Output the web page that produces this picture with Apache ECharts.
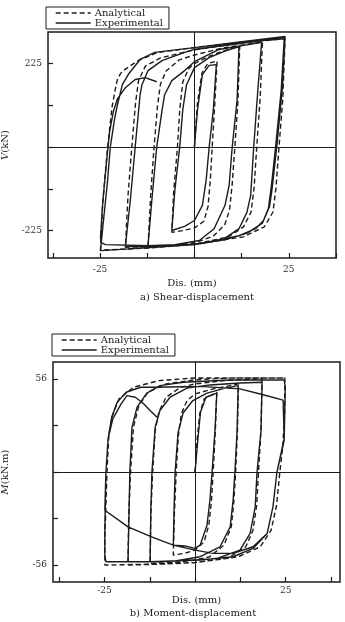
<!DOCTYPE html>
<html><head><meta charset="utf-8">
<script src="https://cdn.jsdelivr.net/npm/echarts@6/dist/echarts.min.js"></script>
<style>html,body{margin:0;padding:0;background:#fff}#c{width:345px;height:622px}</style>
</head><body><div id="c"></div>
<script>
// ---- Data (Dis. in mm, V in kN / M in kN.m) ----
const shearExp = [
[0,0],[0.3,40],[0.8,100],[2.1,195],[3.9,220],[5.8,222],
[5.0,100],[3.9,0],[3.1,-89],[2.1,-157],[0,-198],[-2.6,-214],[-6.0,-225],
[-5.2,-117],[-3.9,0],[-3.1,100],[-2.1,168],[0,214],[3.9,241],[7.9,258],[11.8,271],
[11.3,127],[10,0],[9.2,-103],[8.1,-157],[5.2,-220],[1.3,-252],[-5.2,-263],[-12.3,-266],
[-11.3,-144],[-10,0],[-8.6,98],[-7.9,141],[-6,179],[-2.6,206],[0,230],[6.5,263],[17.8,282],
[16.8,155],[15.7,0],[14.9,-130],[13.9,-176],[11.8,-220],[7.9,-247],[0,-263],[-9.2,-268],[-18.3,-268],
[-17,-144],[-15.7,0],[-14.4,141],[-13.9,168],[-12.3,206],[-8.6,233],[-2.6,255],[0,263],[11.8,279],[23.8,295],
[23,155],[21.5,0],[20.4,-103],[19.6,-165],[18.3,-198],[16.2,-220],[11.8,-239],[3.1,-258],[0,-263],[-11.8,-271],[-24.9,-279],
[-24.1,-198],[-23,-89],[-22.3,0],[-21.2,73],[-20.4,114],[-19.1,168],[-17.5,196],[-14.4,236],[-10.5,255],[0,268],[12,283],[24,298],
[23.3,160],[21.8,0],[20.6,-110],[19.9,-160],[18,-205],[14,-232],[8,-250],[0,-262],[-12,-266],[-23.6,-263],[-24.6,-258],[-24.9,-244],
[-24.3,-150],[-23.3,-40],[-22.5,40],[-21.5,95],[-20.4,130],[-18.3,160],[-15.7,182],[-13.1,187],[-10,176]
];
const shearAna = [
[0,0],[0.8,120],[2,200],[3.5,225],[6,232],
[5.4,120],[4.7,0],[4.2,-90],[3.6,-160],[2.5,-200],[0,-218],[-3,-225],[-6,-230],
[-5.5,-120],[-4.5,0],[-3.9,100],[-3.1,175],[-1.5,212],[0,225],[4,245],[8,260],[12,272],
[11.5,120],[10.7,0],[10,-100],[9.3,-170],[8,-210],[5,-240],[0,-258],[-6,-265],[-12.3,-268],
[-11.6,-130],[-10.7,0],[-9.8,110],[-9,170],[-7.5,205],[-4,235],[0,248],[8,268],[18,283],
[17.4,130],[16.5,0],[15.8,-110],[15,-175],[13,-215],[9,-242],[0,-262],[-9,-268],[-18.3,-270],
[-17.6,-130],[-16.6,0],[-15.6,120],[-14.8,180],[-13,218],[-9,240],[0,262],[12,280],[24,292],
[23.4,130],[22.4,0],[21.6,-110],[20.8,-175],[18.5,-215],[13,-242],[0,-262],[-12,-272],[-24.9,-278],
[-24.3,-150],[-23,0],[-21.8,110],[-20.9,160],[-20.4,182],[-19.6,198],[-18.3,210],[-14.9,233],[-9.7,255],[0,268],[12,282],[24,292]
];
const momentExp = [
[0,0],[0.8,20],[1.5,36],[3,45],[6,47.5],
[5.5,25],[4.7,0],[4.1,-17],[3.3,-32],[1.4,-44],[0,-46],[-2.8,-44.5],[-6,-44],
[-5.8,-23],[-5.5,0],[-4.7,23.5],[-3.3,35.5],[-0.6,43],[3.3,47.5],[8.3,50.5],[11.9,52],
[11.6,25],[11,0],[10.5,-17],[9.7,-33],[6.9,-45],[1.4,-51],[-5.5,-53.6],[-12.4,-54],
[-12.2,-23],[-11.9,0],[-11,27],[-9.7,37],[-6.9,45],[-2.2,50.5],[4.1,52.4],[12.4,53.6],[18.5,54],
[18.2,25],[17.1,0],[16.6,-21],[15.2,-37],[12.4,-47],[6.1,-52],[0,-53],[-9.7,-54],[-18.5,-54],
[-18.2,-23],[-18,0],[-17.4,27],[-16,39],[-13.3,47.5],[-9.7,52],[-3.3,54],[9.7,55.4],[24.6,55.4],
[24.9,51],[24.6,19],[22.6,0],[21.5,-21],[19.9,-37],[16,-46],[10.5,-51],[1.4,-53],[-12.4,-54],[-24.6,-54],[-24.9,-50],
[-24.9,-35],[-24.6,0],[-24,20],[-23,33],[-21.5,42],[-19,48],[-15,51],[-11.6,51],[1.4,51.5],[12.4,50],[18.8,46.5],[24.3,43.3],
[24.6,20],[22.6,0],[21.5,-21],[19.9,-37],[16,-45],[10.5,-49],[5,-49],[0,-47],[-6,-44],[-12,-39],[-18.5,-33],[-24.9,-23],
[-24.6,0],[-24,20],[-22.7,32],[-20.4,41],[-18.8,46],[-16.5,45],[-14.4,41.5],[-12.4,37],[-10.5,33]
];
const momentAna = [
[0,0],[0.6,20],[1.3,35],[2.5,44],[6,48],
[5.6,25],[5,0],[4.5,-18],[3.8,-32],[2.5,-42],[0,-47],[-3,-49],[-6,-50],
[-5.7,-25],[-5.2,0],[-4.6,22],[-3.8,35],[-2.2,43],[0,47],[5,50],[12,53],
[11.7,25],[11.2,0],[10.7,-18],[10,-33],[8,-44],[4,-51],[0,-53],[-6,-54.5],[-12.4,-55],
[-12.2,-25],[-11.7,0],[-11,25],[-10,36],[-8,45],[-4,51],[0,53],[8,55],[18.5,56],
[18.2,25],[17.5,0],[17,-20],[16,-35],[14,-45],[9,-52],[0,-54.5],[-10,-55.5],[-18.5,-56],
[-18.3,-25],[-17.8,0],[-17,27],[-15.5,40],[-13,48],[-8,53],[0,55.5],[10,56.6],[24.8,56.6],
[24.7,35],[24.2,15],[23.4,0],[22.5,-20],[21,-35],[18,-45],[12,-51],[0,-54.5],[-12,-55.5],[-24.9,-56],
[-24.9,-41],[-24.6,-20],[-24.3,0],[-23.8,22],[-22.8,34],[-21,44],[-17,51],[-10,55],[0,56.6],[24.8,56.6]
];
const xTicks = [-37.5,-25,-12.5,0,12.5,25,37.5];
const xLabels = [-25,25];
const vTicks = [-225,-112.5,0,112.5,225];
const vLabels = [-225,225];
const mTicks = [-56,-28,0,28,56];
const mLabels = [-56,56];

const FONT = 'DejaVu Serif';
const INK = '#1c1c1c';
const solid = {color: INK, width: 1.4, type: 'solid'};
const dashed = {color: INK, width: 1.4, type: [5, 3]};

function xAxisFor(gi, min, max, gap, margin) {
  return {type:'value', gridIndex:gi, min:min, max:max, position:'bottom',
    axisLine:{show:false, onZero:false}, splitLine:{show:false},
    axisTick:{show:true, inside:true, length:5, customValues:xTicks, lineStyle:{color:INK, width:1.2}},
    axisLabel:{customValues:xLabels, margin:margin, fontFamily:FONT, fontSize:9, color:'#333'},
    name:'Dis. (mm)', nameLocation:'middle', nameGap:gap,
    nameTextStyle:{fontFamily:FONT, fontSize:10, color:'#222'}};
}
function yAxisFor(gi, min, max, ticks, labels, name, gap) {
  return {type:'value', gridIndex:gi, min:min, max:max, position:'left',
    axisLine:{show:false, onZero:false}, splitLine:{show:false},
    axisTick:{show:true, inside:true, length:5, customValues:ticks, lineStyle:{color:INK, width:1.2}},
    axisLabel:{customValues:labels, margin:6, fontFamily:FONT, fontSize:9, color:'#333'},
    name:name, nameLocation:'middle', nameGap:gap,
    nameTextStyle:{fontFamily:FONT, fontSize:10, color:'#222', rich:{i:{fontFamily:FONT, fontSize:10, fontStyle:'italic', color:'#222'}}}};
}
function zeroLines() {
  return {silent:true, symbol:'none', label:{show:false},
    lineStyle:{color:INK, width:1, type:'solid'},
    data:[{xAxis:0},{yAxis:0}], animation:false};
}
function legendFor(left, top) {
  return {left:left, top:top, orient:'vertical', itemGap:0, itemWidth:35, itemHeight:10,
    padding:[1,6,1,9], borderColor:INK, borderWidth:1, borderRadius:0,
    itemStyle:{opacity:0}, lineStyle:{width:1.4},
    data:['Analytical','Experimental'], selectedMode:false,
    textStyle:{fontFamily:FONT, fontSize:10, color:'#222', padding:[0,0,0,-1]}};
}
function lineSeries(name, data, xi, yi, style, withZero) {
  const s = {name:name, type:'line', data:data, xAxisIndex:xi, yAxisIndex:yi,
    showSymbol:false, symbol:'none', smooth:false, lineStyle:style, itemStyle:{color:INK},
    animation:false, silent:true, z:3};
  if (withZero) s.markLine = zeroLines();
  return s;
}

const option = {
  animation:false,
  backgroundColor:'#fff',
  grid:[
    {left:48, top:32, width:288, height:226, show:true, borderColor:INK, borderWidth:1.5, backgroundColor:'transparent', containLabel:false, outerBoundsMode:'none'},
    {left:53, top:362, width:287, height:220, show:true, borderColor:INK, borderWidth:1.5, backgroundColor:'transparent', containLabel:false, outerBoundsMode:'none'}
  ],
  legend:[legendFor(46,7), legendFor(52,334)],
  xAxis:[xAxisFor(0,-38.8,37.5,20,7), xAxisFor(1,-39.2,40,13,4)],
  yAxis:[yAxisFor(0,-299,310,vTicks,vLabels,'{i|V}(kN)',38),
         yAxisFor(1,-66.2,66.2,mTicks,mLabels,'{i|M}(kN.m)',43)],
  series:[
    lineSeries('Analytical', shearAna, 0, 0, dashed, true),
    lineSeries('Experimental', shearExp, 0, 0, solid, false),
    lineSeries('Analytical', momentAna, 1, 1, dashed, true),
    lineSeries('Experimental', momentExp, 1, 1, solid, false)
  ],
  graphic:[
    {type:'text', x:197, y:297, style:{text:'a) Shear-displacement', align:'center', verticalAlign:'middle', font:'10px "DejaVu Serif"', fill:'#222'}},
    {type:'text', x:193, y:613, style:{text:'b) Moment-displacement', align:'center', verticalAlign:'middle', font:'10px "DejaVu Serif"', fill:'#222'}}
  ]
};
const chart = echarts.init(document.getElementById('c'), null, {renderer:'canvas'});
chart.setOption(option);
</script></body></html>
